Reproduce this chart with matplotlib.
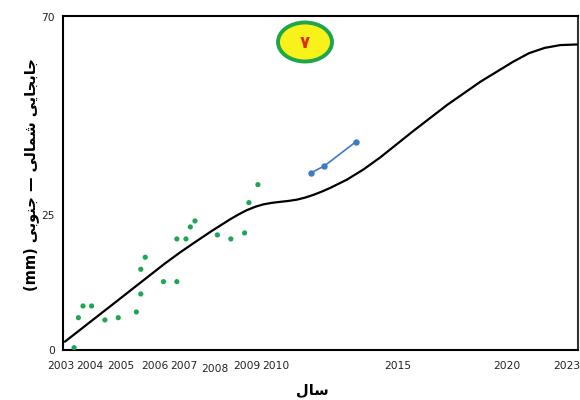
import numpy as np
import matplotlib
matplotlib.use("Agg")
import matplotlib.pyplot as plt
from matplotlib.patches import Ellipse
from matplotlib.transforms import ScaledTranslation
from matplotlib.ticker import FixedLocator, FixedFormatter

# ---------------- data ----------------
obs_years = [2003.41, 2003.57, 2003.74, 2004.05, 2004.48, 2004.91, 2005.45, 2005.58,
             2005.58, 2005.71, 2006.29, 2006.75, 2006.75, 2007.06, 2007.20, 2007.35,
             2008.07, 2008.49, 2008.92, 2009.06, 2009.37]
obs_disp = [0.43, 5.98, 8.15, 8.15, 5.56, 5.98, 7.04, 10.37,
            14.94, 17.17, 12.65, 12.65, 20.56, 20.56, 22.78, 23.89,
            21.30, 20.56, 21.67, 27.80, 31.89]

trend_years = [2003.07, 2004.81, 2006.34, 2006.86, 2007.30, 2007.87, 2008.47, 2008.73,
               2008.99, 2009.28, 2009.56, 2009.85, 2010.17, 2010.50, 2010.86, 2011.20,
               2011.54, 2011.89, 2012.23, 2012.92, 2013.61, 2014.30, 2015.75, 2017.28,
               2018.81, 2020.34, 2021.13, 2021.91, 2022.69, 2023.50]
trend_disp = [1.54, 8.80, 16.02, 18.06, 19.76, 21.96, 24.20, 25.11,
              26.09, 26.86, 27.41, 27.75, 27.98, 28.18, 28.48, 28.95,
              29.57, 30.32, 31.14, 33.02, 35.36, 38.09, 44.14, 49.98,
              55.27, 59.82, 61.75, 62.95, 63.59, 63.73]

gps_years = [2011.45, 2011.99, 2013.30]
gps_disp = [34.61, 36.14, 41.66]

xtick_years = [2003, 2004, 2005, 2006, 2007, 2008, 2009, 2010, 2015, 2020, 2023]
xtick_labels = ["2003", "2004", "2005", "2006", "2007", "2008", "2009", "2010",
                "2015", "2020", "2023"]
ytick_values = [0, 25, 70]
ytick_labels = ["0", "25", "70"]

# The original axes are not evenly spaced: piecewise-linear scale breakpoints
x_break_years = [2002, 2003, 2004, 2005, 2006, 2007, 2008, 2009, 2010, 2015, 2020, 2023, 2030]
x_break_pos = [36, 63, 90, 121, 155, 184, 215, 247, 276, 397, 506, 566, 713]
y_break_vals = [-10, 0, 25, 70, 80]
y_break_pos = [-54, 0, 135, 333, 377]


def xf(v):
    return np.interp(v, x_break_years, x_break_pos)


def xi(p):
    return np.interp(p, x_break_pos, x_break_years)


def yf(v):
    return np.interp(v, y_break_vals, y_break_pos)


def yi(p):
    return np.interp(p, y_break_pos, y_break_vals)


# Persian labels (presentation forms, visual order)
jonubi = "\uFEF0\uFE91\uFEEE\uFEE8\uFE9F"
shomali = "\uFEF0\uFEDF\uFE8E\uFEE4\uFEB7"
jabejai = "\uFEF0\uFEF3\uFE8E\uFEA0\uFE91\uFE8E\uFE9F"
ylabel_text = "(mm) " + jonubi + " \u2014 " + shomali + " " + jabejai
xlabel_text = "\uFEDD\uFE8E\uFEB3"
badge_text = "\u06F7"

# ---------------- figure ----------------
fig = plt.figure(figsize=(5.8, 4.0), dpi=100)
ax = fig.add_axes([63 / 580, 50 / 400, 515 / 580, 334 / 400])
ax.set_xscale("function", functions=(xf, xi))
ax.set_yscale("function", functions=(yf, yi))

ax.plot(trend_years, trend_disp, color="black", lw=1.6, solid_joinstyle="round",
        solid_capstyle="round", zorder=3)
ax.scatter(obs_years, obs_disp, s=14, color="#1fa553", edgecolors="none", zorder=4)
ax.plot(gps_years, gps_disp, color="#3d7cc4", lw=1.2, marker="o", ms=3.6, zorder=4)

ax.set_xlim(2003, 2023.55)
ax.set_ylim(0, 70.2)

tick_font = ["Liberation Sans Narrow", "DejaVu Sans"]
ax.xaxis.set_major_locator(FixedLocator(xtick_years))
ax.xaxis.set_major_formatter(FixedFormatter(xtick_labels))
ax.xaxis.set_minor_locator(FixedLocator([]))
ax.yaxis.set_major_locator(FixedLocator(ytick_values))
ax.yaxis.set_major_formatter(FixedFormatter(ytick_labels))
ax.yaxis.set_minor_locator(FixedLocator([]))
ax.tick_params(axis="both", length=0, labelsize=7.7, colors="#222222")
ax.tick_params(axis="x", pad=8)
ax.tick_params(axis="y", pad=6)
for lbl in ax.get_xticklabels() + ax.get_yticklabels():
    lbl.set_family(tick_font)

# small individual offsets of labels in the original
fig.canvas.draw()
for lbl in ax.get_xticklabels():
    if lbl.get_text() == "2008":
        lbl.set_transform(lbl.get_transform() + ScaledTranslation(0, -2.5 / 100, fig.dpi_scale_trans))
    if lbl.get_text() == "2003":
        lbl.set_transform(lbl.get_transform() + ScaledTranslation(-2 / 100, 0, fig.dpi_scale_trans))

for side in ["left", "bottom", "top", "right"]:
    ax.spines[side].set_linewidth(1.5)
    ax.spines[side].set_color("black")
ax.spines["right"].set_color("#333333")

ax.set_ylabel(ylabel_text, fontsize=10.5, fontweight="bold", family="DejaVu Sans")
ax.yaxis.set_label_coords(-0.046, 0.524)
ax.set_xlabel(xlabel_text, fontsize=10.5, fontweight="bold", family="DejaVu Sans")
ax.xaxis.set_label_coords((312 - 63) / 515, -0.095)

badge = Ellipse(((305 - 63) / 515, (350 - 42) / 334), 54 / 515, 39 / 334,
                transform=ax.transAxes, facecolor="#f6f21a", edgecolor="#1ea64a",
                lw=2.8, zorder=5, clip_on=False)
ax.add_patch(badge)
ax.text((305 - 63) / 515, (350 - 43) / 334, badge_text, transform=ax.transAxes,
        ha="center", va="center", fontsize=12, color="#e02a1c", fontweight="bold",
        family="DejaVu Sans", zorder=6)

fig.savefig("out.png", dpi=100)
